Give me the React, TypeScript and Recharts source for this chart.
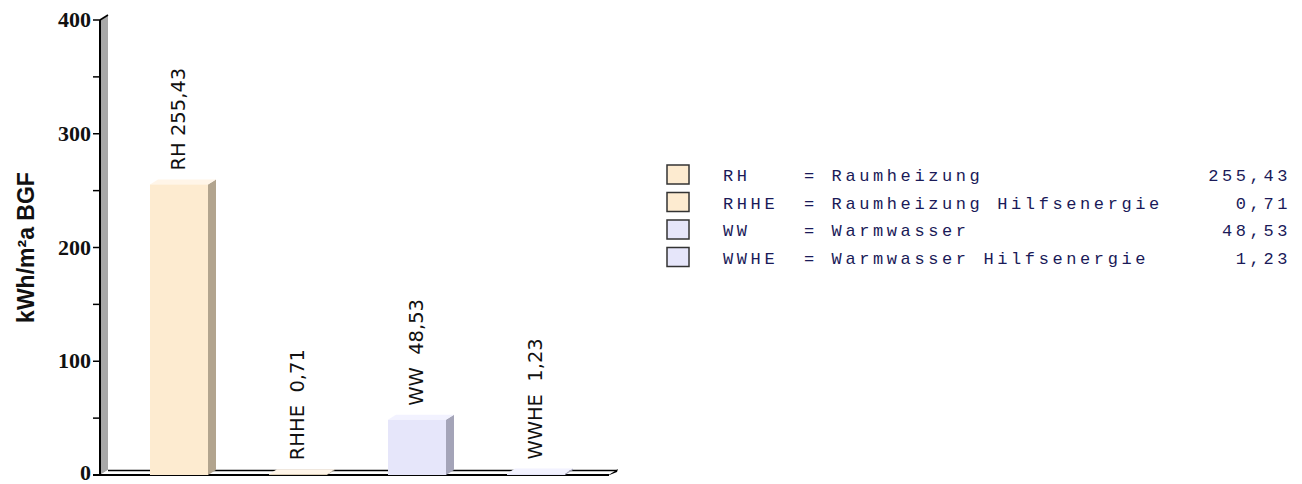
import { BarChart, Bar, XAxis, YAxis, LabelList, Customized } from 'recharts'

// Endenergiebedarf je Anwendung
const categories = ['RH', 'RHHE', 'WW', 'WWHE']
const descriptions = ['Raumheizung', 'Raumheizung Hilfsenergie', 'Warmwasser', 'Warmwasser Hilfsenergie']
const values = [255.43, 0.71, 48.53, 1.23]
const valueTexts = ['255,43', '0,71', '48,53', '1,23']
const barLabels = ['RH 255,43', 'RHHE  0,71', 'WW  48,53', 'WWHE  1,23']
const yTicks = [0, 50, 100, 150, 200, 250, 300, 350, 400]

const FRONT = ['#fdebd0', '#fdebd0', '#e6e6fa', '#e6e6fa']
const SIDE = ['#b2a48e', '#b2a48e', '#a4a4b8', '#a4a4b8']
const TOP = ['#fff5e8', '#fff5e8', '#f2f2ff', '#f2f2ff']

const W = 1302
const H = 484
const Y_AXIS_W = 60
const M = { top: 20, right: 693, bottom: 9, left: 40 }
const PL = M.left + Y_AXIS_W
const PR = W - M.right
const PT = M.top
const PB = H - M.bottom
const DX = 8
const DY = 5

const data = categories.map((c, i) => ({ name: c, value: values[i], label: barLabels[i] }))

function Bar3D(props: any) {
  const { x, y, width, height, index } = props
  const b = y + height
  const r = x + width
  return (
    <g>
      <polygon points={`${r},${y} ${r + DX},${y - DY} ${r + DX},${b - DY} ${r},${b}`} fill={SIDE[index]} />
      <polygon points={`${x},${y} ${x + DX},${y - DY} ${r + DX},${y - DY} ${r},${y}`} fill={TOP[index]} />
      <rect x={x} y={y} width={width} height={height} fill={FRONT[index]} />
    </g>
  )
}

function BarLabel({ x, y, width, value }: any) {
  const lx = x + width / 2 + 6
  const ly = y - 14
  return (
    <text x={lx} y={ly} transform={`rotate(-90 ${lx} ${ly})`} textAnchor="start"
          fontFamily="DejaVu Sans" fontSize={19.5} fill="#111" style={{ whiteSpace: 'pre' }}>
      {value}
    </text>
  )
}

function YTick({ x, y, payload }: any) {
  if (payload.value % 100 !== 0) return null
  return (
    <text x={x} y={y} dy={payload.value === 0 ? 5 : 7} textAnchor="end" fontFamily="Liberation Serif"
          fontWeight="bold" fontSize={22} fill="#111">
      {payload.value}
    </text>
  )
}

// Wand, Boden und Achsentitel
function Backdrop() {
  return (
    <g>
      <polygon points={`${PL},${PT} ${PL + DX},${PT - DY} ${PL + DX},${PB - DY} ${PL},${PB}`} fill="#a8a8a8" />
      <line x1={PL} y1={PT} x2={PL + DX} y2={PT - DY} stroke="#000" strokeWidth={1.5} />
      <polygon points={`${PL},${PB} ${PR},${PB} ${PR + DX},${PB - DY} ${PL + DX},${PB - DY}`} fill="#fff" />
      <line x1={PL + DX} y1={PB - DY + 0.5} x2={PR + DX} y2={PB - DY + 0.5} stroke="#000" strokeWidth={1.5} />
      <line x1={PL - 7} y1={PB} x2={PR} y2={PB} stroke="#000" strokeWidth={2} />
      <polygon points={`${PR - 2},${PB + 1} ${PR + DX + 1},${PB - DY - 1} ${PR + DX},${PB - DY + 2}`} fill="#000" />
      <text x={34} y={(PT + PB) / 2} transform={`rotate(-90 34 ${(PT + PB) / 2})`} textAnchor="middle"
            fontFamily="Liberation Sans" fontWeight="bold" fontSize={23} fill="#111">
        kWh/m²a BGF
      </text>
    </g>
  )
}

function LegendBlock() {
  const top = 165
  const step = 27.5
  const font = { fontFamily: 'Liberation Mono', fontSize: 17, letterSpacing: 3.6, fill: '#1a1a58' }
  return (
    <g>
      {categories.map((c, i) => (
        <g key={c}>
          <rect x={667} y={top + i * step} width={22} height={19} fill={FRONT[i]} stroke="#333" strokeWidth={1.5} />
          <text x={723} y={top + i * step + 16} {...font}>{c}</text>
          <text x={804} y={top + i * step + 16} {...font} style={{ whiteSpace: 'pre' }}>{`= ${descriptions[i]}`}</text>
          <text x={1291} y={top + i * step + 16} textAnchor="end" {...font}>{valueTexts[i]}</text>
        </g>
      ))}
    </g>
  )
}

export default function App() {
  return (
    <div style={{ position: 'absolute', left: 0, top: 0, width: W, height: H, background: '#fff' }}>
      <BarChart width={W} height={H} data={data} margin={M}>
        <Customized component={Backdrop} />
        <XAxis dataKey="name" hide padding={{ left: 19, right: 14 }} />
        <YAxis width={Y_AXIS_W} domain={[0, 400]} ticks={yTicks} interval={0} tick={<YTick />}
               tickSize={7} tickLine={{ stroke: '#000', strokeWidth: 1.5 }}
               axisLine={{ stroke: '#000', strokeWidth: 2 }} allowDataOverflow />
        <Bar dataKey="value" barSize={58} shape={<Bar3D />} isAnimationActive={false}>
          <LabelList dataKey="label" content={<BarLabel />} />
        </Bar>
        <Customized component={LegendBlock} />
      </BarChart>
    </div>
  )
}
